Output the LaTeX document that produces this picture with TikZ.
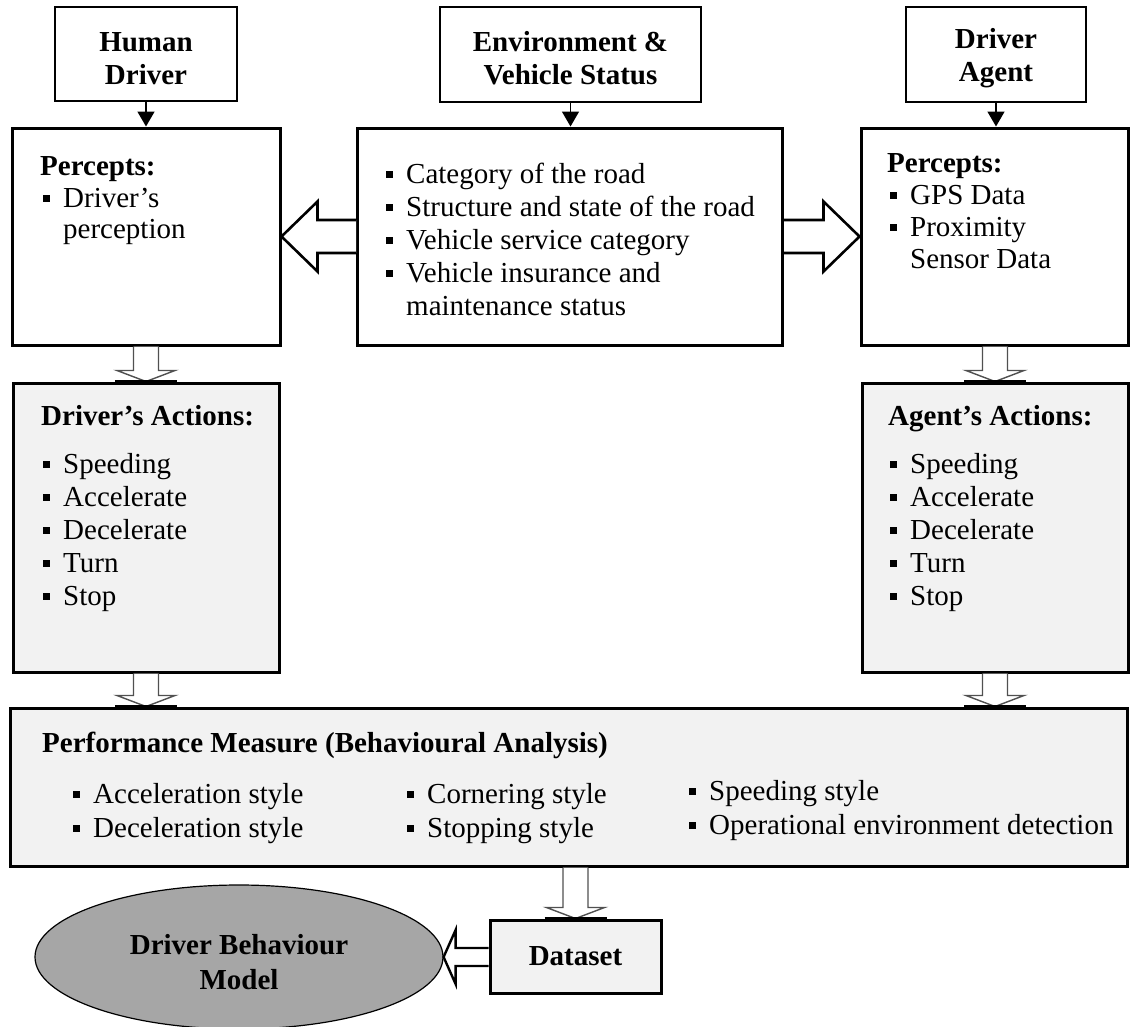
\documentclass[tikz,border=0pt]{standalone}
\usepackage{fontspec}
\setmainfont{Liberation Serif}
\usetikzlibrary{arrows.meta,calc,shapes.geometric}

% text size used throughout
\newcommand\fs{\fontsize{29}{33}\selectfont}
% square bullet followed by the gap to the item text
\newcommand\sqb{\makebox[20pt][l]{\rule[5.5pt]{6.5pt}{6.5pt}}}
% strut that lowers the first line of a centred title
\newcommand\topstrut{\rule{0pt}{28pt}}

\definecolor{panel}{HTML}{F2F2F2}
\definecolor{modelgray}{HTML}{A6A6A6}
\definecolor{hollowline}{HTML}{505050}

\tikzset{
  thinbox/.style={draw, line width=1.6pt, fill=white, align=center, font=\fs\bfseries, inner sep=0pt},
  thickbox/.style={draw, line width=3pt, fill=white, inner sep=0pt},
  greybox/.style={thickbox, fill=panel},
  txt/.style={anchor=base west, inner sep=0pt, font=\fs},
  txtb/.style={txt, font=\fs\bfseries},
  feed/.style={line width=1.6pt, -{Triangle[length=15pt,width=17pt]}},
  hollow/.style={draw=hollowline, line width=1.4pt, fill=white, line join=miter},
  blockarrow/.style={draw=black, line width=2.6pt, fill=white, line join=miter},
}

% thin hollow arrow pointing down from the bottom of #1 to the top of #2,
% placed on the vertical line through #3
\newcommand\downblock[3]{%
  \draw[hollow] let \p1=(#1.south), \p2=(#2.north), \p3=(#3) in
    (\x3-12.5pt,\y1) -- (\x3-12.5pt,\y2+11pt) -- (\x3-29pt,\y2+11pt) -- (\x3,\y2)
    -- (\x3+29pt,\y2+11pt) -- (\x3+12.5pt,\y2+11pt) -- (\x3+12.5pt,\y1);
  \draw[line width=3pt] let \p2=(#2.north), \p3=(#3) in
    (\x3-31pt,\y2) -- (\x3+31pt,\y2);}

\begin{document}
\begin{tikzpicture}[x=1pt,y=-1pt]
\fill[white] (0,0) rectangle (1130,1026);
\useasboundingbox (0,0) rectangle (1130,1026);

% --- sources -------------------------------------------------------------
\node[thinbox, minimum width=182pt, minimum height=94pt] (hd) at (146,54) {\topstrut Human\\Driver};
\node[thinbox, minimum width=261pt, minimum height=95pt] (ev) at (570.5,54.5) {\topstrut Environment \&\\Vehicle Status};
\node[thinbox, minimum width=180pt, minimum height=95pt] (da) at (996,54.5) {\topstrut Driver\\Agent};

% --- percepts and environment details ------------------------------------
\node[thickbox, minimum width=268pt, minimum height=217pt] (pl) at (146,236.5) {};
\node[thickbox, minimum width=425pt, minimum height=217pt] (el) at (570,236.5) {};
\node[thickbox, minimum width=267pt, minimum height=217pt] (pr) at (994.5,236.5) {};

% --- actions -------------------------------------------------------------
\node[greybox, minimum width=266pt, minimum height=289pt] (al) at (146,527.5) {};
\node[greybox, minimum width=266pt, minimum height=289pt] (ar) at (995,527.5) {};

% --- performance measure -------------------------------------------------
\node[greybox, minimum width=1117pt, minimum height=158pt] (pm) at (568.5,787) {};

% --- dataset and model ---------------------------------------------------
\node[greybox, minimum width=171pt, minimum height=73pt, font=\fs\bfseries] (ds) at (575.5,956.5) {Dataset};
\node[ellipse, draw, line width=1.2pt, fill=modelgray, minimum width=408pt, minimum height=144pt,
      inner sep=0pt] (bm) at (239,957) {};
\node[align=center, inner sep=0pt, font=\fs\bfseries] (bmt) at (239,962) {Driver Behaviour\\[2pt]Model};

% --- feeds from the sources ---------------------------------------------
\draw[feed] (hd) -- (pl);
\draw[feed] (ev.south) -- (ev.south |- el.north);
\draw[feed] (da.south) -- (da.south |- pr.north);

% --- environment details shared with both percept boxes -----------------
\draw[blockarrow] let \p1=(el.west), \p2=(pl.east) in
  (\x1,\y2+16.5pt) -- (\x2+36pt,\y2+16.5pt) -- (\x2+36pt,\y2+35pt) -- (\x2,\y2)
  -- (\x2+36pt,\y2-35pt) -- (\x2+36pt,\y2-16.5pt) -- (\x1,\y2-16.5pt);
\draw[blockarrow] let \p1=(el.east), \p2=(pr.west) in
  (\x1,\y2+16.5pt) -- (\x2-36pt,\y2+16.5pt) -- (\x2-36pt,\y2+35pt) -- (\x2,\y2)
  -- (\x2-36pt,\y2-35pt) -- (\x2-36pt,\y2-16.5pt) -- (\x1,\y2-16.5pt);

% --- downward flow -------------------------------------------------------
\downblock{pl}{al}{pl.south}
\downblock{pr}{ar}{ar.north}
\downblock{al}{pm}{al.south}
\downblock{ar}{pm}{ar.south}
\downblock{pm}{ds}{ds.north}

% --- dataset feeds the model --------------------------------------------
\draw[blockarrow, line width=2.4pt] let \p1=(ds.west), \p2=(bm.east) in
  (\x1,\y2+9pt) -- (\x2+12pt,\y2+9pt) -- (\x2+12pt,\y2+27pt) -- (\x2,\y2)
  -- (\x2+12pt,\y2-27pt) -- (\x2+12pt,\y2-9pt) -- (\x1,\y2-9pt);

% --- texts: human driver percepts ----------------------------------------
\node[txtb] (plh) at (40,175) {Percepts:};
\node[txt] (pl1) at (43,207) {\sqb Driver’s};
\node[txt] (pl2) at (63,238) {perception};

% --- texts: environment and vehicle status ------------------------------
\node[txt] (el1) at (386,183) {\sqb Category of the road};
\node[txt] (el2) at (386,216) {\sqb Structure and state of the road};
\node[txt] (el3) at (386,249) {\sqb Vehicle service category};
\node[txt] (el4) at (386,282) {\sqb Vehicle insurance and};
\node[txt] (el5) at (406,315) {maintenance status};

% --- texts: driver agent percepts ----------------------------------------
\node[txtb] (prh) at (887,172) {Percepts:};
\node[txt] (pr1) at (890,204) {\sqb GPS Data};
\node[txt] (pr2) at (890,236) {\sqb Proximity};
\node[txt] (pr3) at (910,268) {Sensor Data};

% --- texts: driver's actions ---------------------------------------------
\node[txtb] (alh) at (41,425) {Driver’s Actions:};
\node[txt] (al1) at (43,473) {\sqb Speeding};
\node[txt] (al2) at (43,506) {\sqb Accelerate};
\node[txt] (al3) at (43,539) {\sqb Decelerate};
\node[txt] (al4) at (43,572) {\sqb Turn};
\node[txt] (al5) at (43,605) {\sqb Stop};

% --- texts: agent's actions ----------------------------------------------
\node[txtb] (arh) at (888,425) {Agent’s Actions:};
\node[txt] (ar1) at (890,473) {\sqb Speeding};
\node[txt] (ar2) at (890,506) {\sqb Accelerate};
\node[txt] (ar3) at (890,539) {\sqb Decelerate};
\node[txt] (ar4) at (890,572) {\sqb Turn};
\node[txt] (ar5) at (890,605) {\sqb Stop};

% --- texts: performance measure ------------------------------------------
\node[txtb] (pmh) at (42,752) {Performance Measure (Behavioural Analysis)};
\node[txt] (pm1) at (73,803) {\sqb Acceleration style};
\node[txt] (pm2) at (73,837) {\sqb Deceleration style};
\node[txt] (pm3) at (407,803) {\sqb Cornering style};
\node[txt] (pm4) at (407,837) {\sqb Stopping style};
\node[txt] (pm5) at (689,800) {\sqb Speeding style};
\node[txt] (pm6) at (689,834) {\sqb Operational environment detection};
\end{tikzpicture}
\end{document}
